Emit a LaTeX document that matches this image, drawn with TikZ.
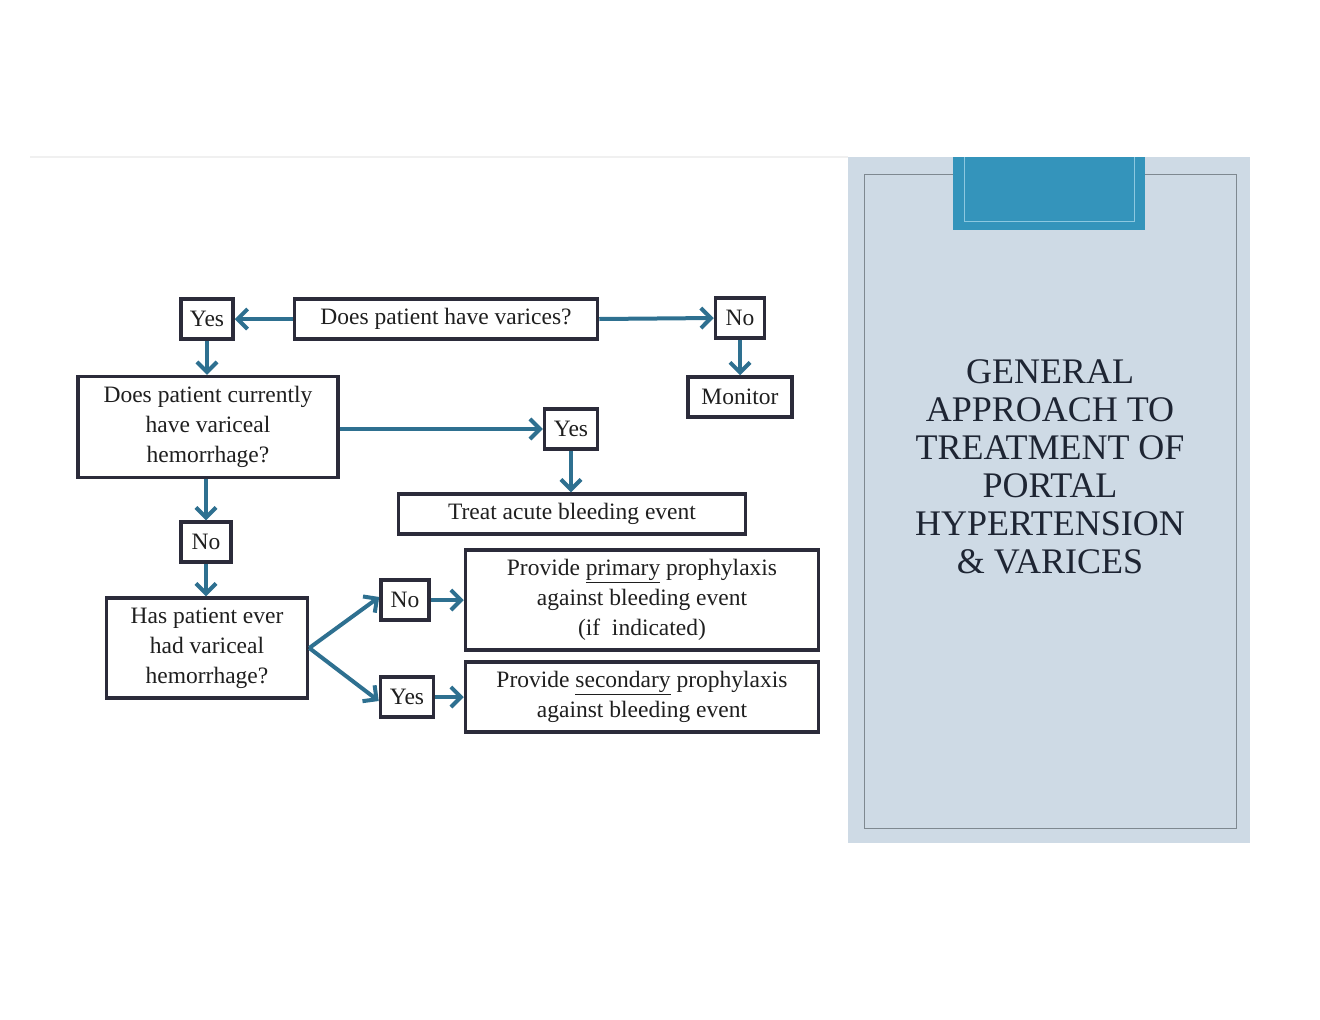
\documentclass[tikz,border=0pt]{standalone}
\usepackage{fontspec}
\setmainfont{Liberation Serif}
\usetikzlibrary{arrows.meta}
\definecolor{boxline}{HTML}{2B2B3A}
\definecolor{arrowc}{HTML}{2E7090}
\definecolor{panel}{HTML}{CEDAE5}
\definecolor{tab}{HTML}{3494BB}
\definecolor{tabline}{HTML}{8CC8E0}
\definecolor{frame}{HTML}{7E8890}
\definecolor{titlec}{HTML}{1E2533}
\begin{document}
\begin{tikzpicture}[x=1pt,y=-1pt,
  fbox/.style={draw=boxline,line width=3.5pt,fill=white,align=center,inner sep=0pt,
    font=\fontsize{23.5}{30}\selectfont,text=black!88},
  arr/.style={draw=arrowc,line width=4pt,-{Straight Barb[length=10pt,width=20pt,line width=4pt]}}]
\useasboundingbox (0,0) rectangle (1320,1020);
% separator line
\draw[color=black!6,line width=1.5pt] (30,157) -- (848,157);
% right panel
\fill[panel] (848,157) rectangle (1250,843);
\draw[frame,line width=1pt] (864,174) rectangle (1236,828);
\fill[tab] (953,157) rectangle (1145,230);
\draw[tabline,line width=1pt] (964,157) -- (964,221) -- (1134,221) -- (1134,157);
\node[text=titlec,align=center,font=\fontsize{36}{38}\selectfont] (title) at (1050,467)
  {GENERAL\\APPROACH TO\\TREATMENT OF\\PORTAL\\HYPERTENSION\\\& VARICES};
% flowchart nodes
\node[fbox,minimum width=303pt,minimum height=40pt] (q1) at (446,319) {Does patient have varices?};
\node[fbox,minimum width=52pt,minimum height=40pt] (yes1) at (207,319) {Yes};
\node[fbox,minimum width=49pt,minimum height=40pt] (no1) at (740,318) {No};
\node[fbox,minimum width=104pt,minimum height=40pt] (mon) at (740,397) {Monitor};
\node[fbox,minimum width=260pt,minimum height=101pt] (q2) at (208,427) {Does patient currently\\have variceal\\hemorrhage?};
\node[fbox,minimum width=53pt,minimum height=40pt] (yes2) at (571,429) {Yes};
\node[fbox,minimum width=347pt,minimum height=40pt] (treat) at (572,514) {Treat acute bleeding event};
\node[fbox,minimum width=50pt,minimum height=40pt] (no2) at (206,542) {No};
\node[fbox,minimum width=201pt,minimum height=100pt] (q3) at (207,648) {Has patient ever\\had variceal\\hemorrhage?};
\node[fbox,minimum width=48pt,minimum height=40pt] (no3) at (405,600) {No};
\node[fbox,minimum width=53pt,minimum height=40pt] (yes3) at (407,697) {Yes};
\node[fbox,minimum width=353pt,minimum height=100pt] (p1) at (642,600) {Provide \underline{primary} prophylaxis\\against bleeding event\\(if\ \ indicated)};
\node[fbox,minimum width=353pt,minimum height=70pt] (p2) at (642,697) {Provide \underline{secondary} prophylaxis\\against bleeding event};
% connectors
\coordinate (q3e) at (q3.east);
\draw[arr] (q1.west) -- (yes1.east);
\draw[arr] (q1.east) -- (no1.west);
\draw[arr] (no1.south) -- (mon.north);
\draw[arr] (yes1.south) -- (yes1.south |- q2.north);
\draw[arr] (q2.east |- yes2.west) -- (yes2.west);
\draw[arr] (yes2.south) -- (yes2.south |- treat.north);
\draw[arr] (q2.south -| no2.north) -- (no2.north);
\draw[arr] (no2.south) -- (no2.south |- q3.north);
\draw[arr] (q3e) -- ([yshift=3pt]no3.west);
\draw[arr] (q3e) -- ([yshift=-4pt]yes3.west);
\draw[arr] (no3.east) -- (p1.west |- no3.east);
\draw[arr] (yes3.east) -- (p2.west |- yes3.east);
\end{tikzpicture}
\end{document}
